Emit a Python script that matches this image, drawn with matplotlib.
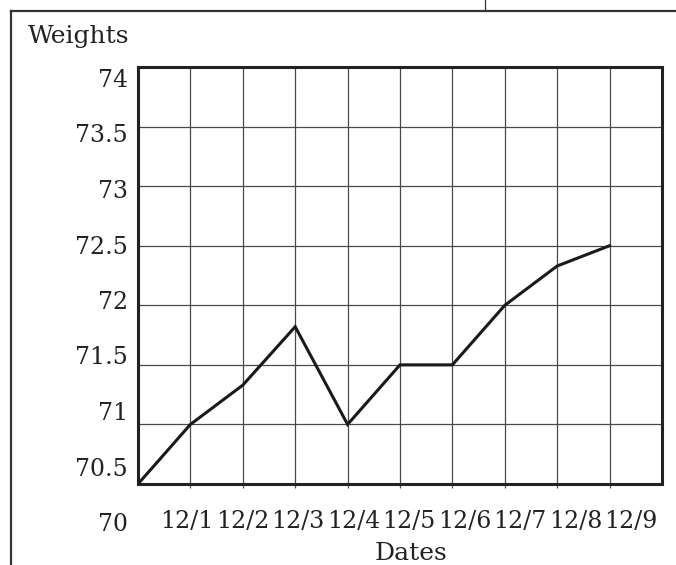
import matplotlib.pyplot as plt
from matplotlib.lines import Line2D

# data: day index 0 is the starting weight, then 12/1 .. 12/9
days = list(range(10))
weights = [70.5, 71.0, 71.33, 71.82, 71.0, 71.5, 71.5, 72.0, 72.33, 72.5]
date_labels = ['12/1', '12/2', '12/3', '12/4', '12/5', '12/6', '12/7', '12/8', '12/9']
weight_ticks = [70, 70.5, 71, 71.5, 72, 72.5, 73, 73.5, 74]

plt.rcParams['font.family'] = ['DejaVu Serif']
plt.rcParams['font.size'] = 18

W, H = 676, 565
fig = plt.figure(figsize=(W / 100, H / 100), dpi=100)

def px(l, t, r, b):
    return [l / W, 1 - b / H, (r - l) / W, (b - t) / H]

# plotting area with the grid
ax = fig.add_axes(px(138, 67, 662, 484))
ax.plot(days, weights, color='#1a1a1a', lw=2.2, solid_joinstyle='miter', zorder=3)
ax.set_xlim(0, 10)
ax.set_ylim(70.5, 74)
ax.set_xticks(range(1, 10))
ax.set_yticks(weight_ticks[1:])
ax.set_xticklabels([])
ax.set_yticklabels([])
ax.tick_params(axis='x', direction='out', length=3, width=0.9, color='#555')
ax.tick_params(axis='y', length=0)
ax.grid(True, color='#4a4a4a', lw=0.9)
for s in ax.spines.values():
    s.set_linewidth(2.2)
    s.set_color('#222')

# labels sit on their own, evenly spaced grid (as in the printed figure)
lab = fig.add_axes(px(131.5, 78, 631, 522))
lab.set_xlim(0, 9)
lab.set_ylim(70, 74)
lab.set_xticks(range(1, 10), date_labels)
lab.set_yticks(weight_ticks, [f'{v:g}' for v in weight_ticks])
lab.tick_params(axis='both', length=0, colors='#222', labelsize=17)
lab.tick_params(axis='x', pad=-9)
lab.tick_params(axis='y', pad=2.5)
lab.patch.set_visible(False)
for s in lab.spines.values():
    s.set_visible(False)

fig.text(28 / W, 1 - 36 / H, 'Weights', ha='left', va='center', color='#222')
fig.text(411 / W, 1 - 553 / H, 'Dates', ha='center', va='center', color='#222')

# outer frame of the printed box
fc = '#333'
fig.add_artist(Line2D([11 / W, 1], [1 - 11 / H] * 2, color=fc, lw=1.6))
fig.add_artist(Line2D([11 / W] * 2, [0, 1 - 11 / H], color=fc, lw=1.6))
fig.add_artist(Line2D([485 / W] * 2, [1 - 11 / H, 1], color=fc, lw=0.9))

fig.savefig('out.png', dpi=100)
